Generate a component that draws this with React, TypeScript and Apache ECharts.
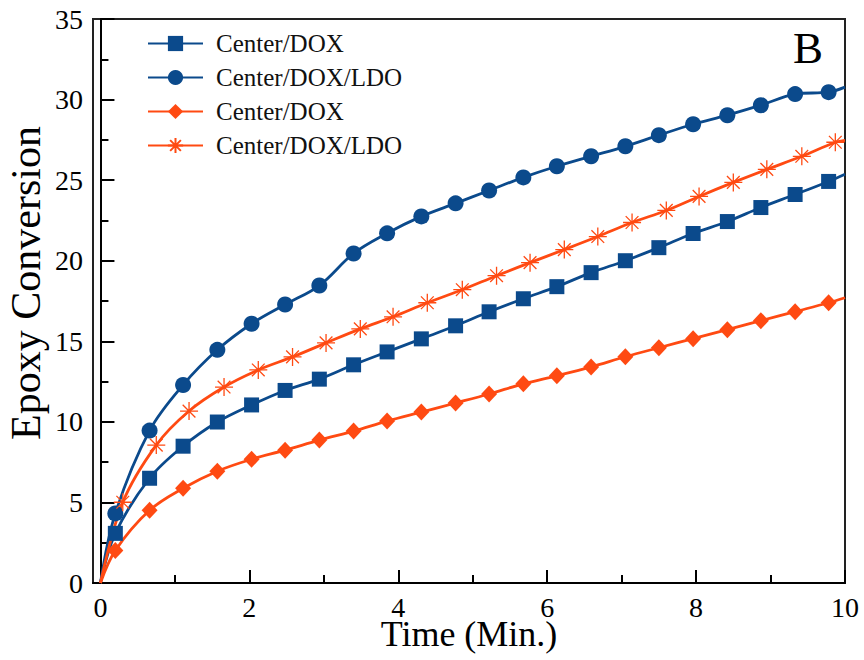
import React, { useEffect, useRef } from "react";
import * as echarts from "echarts";

// Time (min) of the markers
const timeA = [0.2, 0.66, 1.11, 1.57, 2.03, 2.48, 2.94, 3.4, 3.85, 4.31, 4.77, 5.22, 5.68, 6.13, 6.59, 7.05, 7.5, 7.96, 8.42, 8.87, 9.33, 9.78];
const timeB = [0.3, 0.75, 1.19, 1.66, 2.12, 2.58, 3.03, 3.49, 3.93, 4.39, 4.86, 5.32, 5.77, 6.23, 6.68, 7.14, 7.6, 8.04, 8.5, 8.95, 9.42, 9.87];

// Epoxy conversion values
const blueCenterDox = [3.08, 6.5, 8.49, 9.99, 11.05, 11.95, 12.65, 13.54, 14.34, 15.15, 15.96, 16.83, 17.64, 18.39, 19.26, 20.0, 20.81, 21.69, 22.43, 23.3, 24.11, 24.92];
const blueCenterDoxLdo = [4.32, 9.46, 12.29, 14.47, 16.09, 17.28, 18.46, 20.45, 21.7, 22.75, 23.56, 24.36, 25.17, 25.86, 26.48, 27.1, 27.79, 28.47, 29.03, 29.65, 30.34, 30.46];
const redCenterDox = [2.02, 4.51, 5.88, 6.94, 7.68, 8.24, 8.87, 9.43, 10.05, 10.61, 11.17, 11.73, 12.36, 12.86, 13.41, 14.04, 14.6, 15.16, 15.72, 16.28, 16.84, 17.39];
const redCenterDoxLdo = [5.01, 8.56, 10.67, 12.16, 13.22, 14.03, 14.9, 15.77, 16.52, 17.39, 18.2, 19.07, 19.88, 20.69, 21.5, 22.37, 23.12, 23.99, 24.86, 25.67, 26.48, 27.35];

// Curve start and end (no marker)
const startTime = 0;
const startValue = 0;
const endTime = 10;
const endValues = [25.36, 30.77, 17.7, 27.47];

const legendLabels = ["Center/DOX", "Center/DOX/LDO", "Center/DOX", "Center/DOX/LDO"];
const xTickValues = [0, 2, 4, 6, 8, 10];
const xMinorValues = [1, 3, 5, 7, 9];

const BLUE = "#0b4a8c";
const RED = "#ff4a12";
const FONT = "'Liberation Serif', 'Times New Roman', serif";

const ASTERISK = "path://M0,-10L0,10M-10,0L10,0M-7.07,-7.07L7.07,7.07M-7.07,7.07L7.07,-7.07";

function buildData(times: number[], values: number[], endValue: number) {
  const pts: any[] = [{ value: [startTime, startValue], symbol: "none" }];
  times.forEach((t, i) => pts.push({ value: [t, values[i]] }));
  pts.push({ value: [endTime, endValue], symbol: "none" });
  return pts;
}

export default function App() {
  const ref = useRef<HTMLDivElement>(null);
  useEffect(() => {
    if (!ref.current) return;
    const chart = echarts.init(ref.current, null, { renderer: "svg" });
    const keys = ["s1", "s2", "s3", "s4"];
    const baseSeries = (key: string, color: string, data: any[], symbol: string, size: any, extraItem: any = {}) => ({
      name: key,
      type: "line",
      data,
      smooth: 0.35,
      symbol,
      symbolSize: size,
      showAllSymbol: true,
      lineStyle: { color, width: 2.8 },
      itemStyle: { color, ...extraItem },
      emphasis: { disabled: true },
      z: 3,
    });
    chart.setOption({
      animation: false,
      textStyle: { fontFamily: FONT },
      grid: {
        left: 93,
        right: 19,
        top: 19,
        bottom: 77,
        show: true,
        borderColor: "#222",
        borderWidth: 2,
        outerBoundsMode: "none",
        containLabel: false,
      },
      legend: {
        orient: "vertical",
        left: 147,
        top: 31,
        padding: 0,
        itemWidth: 55,
        itemHeight: 19,
        itemGap: 9,
        data: keys,
        formatter: (n: string) => legendLabels[keys.indexOf(n)],
        textStyle: { fontFamily: FONT, fontSize: 25, color: "#111", padding: [0, 0, 0, 8] },
      },
      xAxis: [
        {
          type: "value",
          min: -0.1,
          max: 10,
          position: "bottom",
          name: "Time (Min.)",
          nameLocation: "middle",
          nameGap: 36,
          nameMoveOverlap: false,
          nameTextStyle: { fontFamily: FONT, fontSize: 36, lineHeight: 30, color: "#000" },
          axisLine: { show: true, onZero: false, lineStyle: { color: "#000", width: 2 } },
          axisTick: { show: true, inside: true, length: 13, customValues: xTickValues, lineStyle: { color: "#000", width: 2 } },
          axisLabel: { customValues: xTickValues, fontFamily: FONT, fontSize: 28, lineHeight: 22, color: "#000", margin: 13 },
          splitLine: { show: false },
        },
        {
          type: "value",
          min: -0.1,
          max: 10,
          position: "bottom",
          axisLine: { show: false, onZero: false },
          axisTick: { show: true, inside: true, length: 8, customValues: xMinorValues, lineStyle: { color: "#000", width: 2 } },
          axisLabel: { show: false },
          splitLine: { show: false },
        },
      ],
      yAxis: {
        type: "value",
        min: 0,
        max: 35,
        interval: 5,
        axisLine: { show: true, lineStyle: { color: "#000", width: 2 } },
        axisTick: { show: true, inside: true, length: 14, lineStyle: { color: "#000", width: 2 } },
        minorTick: { show: true, splitNumber: 2, length: 8, lineStyle: { color: "#000", width: 2 } },
        axisLabel: { fontFamily: FONT, fontSize: 28, color: "#000", margin: 10 },
        splitLine: { show: false },
        minorSplitLine: { show: false },
      },
      graphic: [
        {
          type: "text",
          x: 26,
          y: 283,
          rotation: Math.PI / 2,
          style: {
            text: "Epoxy Conversion",
            fontFamily: FONT,
            fontSize: 42,
            fill: "#000",
            textAlign: "center",
            textVerticalAlign: "middle",
          },
        },
        {
          type: "text",
          x: 808,
          y: 48,
          style: {
            text: "B",
            fontFamily: FONT,
            fontSize: 45,
            fill: "#000",
            textAlign: "center",
            textVerticalAlign: "middle",
          },
        },
      ],
      series: [
        baseSeries("s1", BLUE, buildData(timeA, blueCenterDox, endValues[0]), "rect", 15),
        baseSeries("s2", BLUE, buildData(timeA, blueCenterDoxLdo, endValues[1]), "circle", 16),
        baseSeries("s3", RED, buildData(timeA, redCenterDox, endValues[2]), "diamond", [16, 17]),
        baseSeries("s4", RED, buildData(timeB, redCenterDoxLdo, endValues[3]), ASTERISK, 18, {
          borderColor: RED,
          borderWidth: 1.3,
        }),
      ],
    });
    return () => chart.dispose();
  }, []);
  return (
    <div
      ref={ref}
      style={{ position: "absolute", left: 0, top: 0, width: 864, height: 660, background: "#fff" }}
    />
  );
}
